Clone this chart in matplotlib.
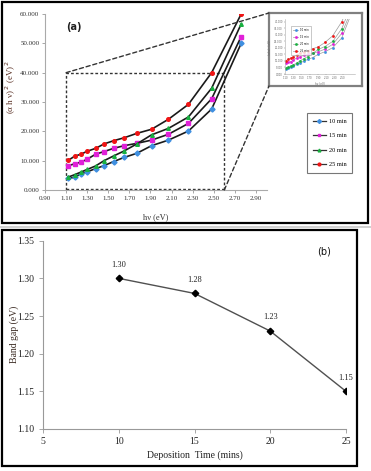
import matplotlib
matplotlib.use("Agg")
import matplotlib.pyplot as plt
from matplotlib.patches import Rectangle
from matplotlib.lines import Line2D
from matplotlib.patches import ConnectionPatch

# ---------------- data ----------------
energy = [1.12, 1.18, 1.24, 1.30, 1.38, 1.46, 1.55, 1.65, 1.77, 1.91, 2.07, 2.26, 2.48, 2.76]
abs_10 = [4.0, 4.3, 5.5, 6.2, 7.3, 8.3, 9.7, 11.1, 12.5, 15.1, 17.0, 20.1, 27.6, 50.0]
abs_15 = [8.3, 8.9, 9.5, 10.5, 12.2, 13.1, 14.2, 15.1, 15.9, 17.0, 19.0, 22.7, 31.1, 52.3]
abs_20 = [4.4, 5.2, 6.1, 7.0, 8.2, 10.0, 11.6, 13.3, 15.7, 18.8, 21.0, 24.9, 34.7, 56.6]
abs_25 = [10.1, 11.5, 12.2, 13.2, 14.2, 15.7, 16.8, 17.8, 19.3, 20.7, 24.1, 29.2, 40.0, 60.0]
series_labels = ["10 min", "15 min", "20 min", "25 min"]

dep_time = [10, 15, 20, 25]
band_gap = [1.30, 1.28, 1.23, 1.15]

x_ticks_a = [0.90, 1.10, 1.30, 1.50, 1.70, 1.90, 2.10, 2.30, 2.50, 2.70, 2.90]
y_ticks_a = [0, 10, 20, 30, 40, 50, 60]
x_ticks_b = [5, 10, 15, 20, 25]
y_ticks_b = [1.10, 1.15, 1.20, 1.25, 1.30, 1.35]
ins_x_ticks = [1.10, 1.30, 1.50, 1.70, 1.90, 2.10, 2.30, 2.50]
ins_y_ticks = [0, 5, 10, 15, 20, 25, 30, 35, 40]

# zoom region marked on panel (a)
zoom_x0, zoom_x1, zoom_y0, zoom_y1 = 1.10, 2.60, 0, 40

colors = ["#3f8fe0", "#e020d8", "#18b040", "#f01414"]
markers = ["D", "s", "^", "o"]

W, H = 371, 471
fig = plt.figure(figsize=(W / 100, H / 100), dpi=100)
SERIF = "Liberation Serif"

def px_rect(x0, y0, x1, y1):
    return [x0 / W, 1 - y1 / H, (x1 - x0) / W, (y1 - y0) / H]

# frames
fig.add_artist(Rectangle((2 / W, 1 - 223 / H), 366 / W, 221 / H, transform=fig.transFigure,
                         fill=False, ec="black", lw=1.6))
fig.add_artist(Rectangle((2 / W, 1 - 466 / H), 355 / W, 236 / H, transform=fig.transFigure,
                         fill=False, ec="black", lw=1.6))
fig.add_artist(Line2D([0, 1], [1 - 226.5 / H, 1 - 226.5 / H], transform=fig.transFigure,
                      color="#c8c8c8", lw=1.2))

# ---------------- panel (a) ----------------
ax = fig.add_axes(px_rect(45, 14, 266.5, 190))
all_series = [abs_10, abs_15, abs_20, abs_25]
for ys, c, m, lab in zip(all_series, colors, markers, series_labels):
    ax.plot(energy, ys, color="#1a1a1a", lw=1.2, marker=m, markersize=2.6,
            markerfacecolor=c, markeredgecolor=c, label=lab, zorder=3)
ax.set_xlim(0.90, 3.0)
ax.set_ylim(0, 60)
ax.set_xticks(x_ticks_a)
ax.set_xticklabels([f"{v:.2f}" for v in x_ticks_a])
ax.set_yticks(y_ticks_a)
ax.set_yticklabels([f"{v:.3f}" for v in y_ticks_a])
for lbl in ax.get_xticklabels() + ax.get_yticklabels():
    lbl.set_fontfamily(SERIF)
    lbl.set_fontsize(5)
    lbl.set_color("#333333")
ax.tick_params(length=2, width=0.6, color="#999999", pad=2)
for s in ["top", "right"]:
    ax.spines[s].set_visible(False)
for s in ["left", "bottom"]:
    ax.spines[s].set_color("#aaaaaa")
    ax.spines[s].set_linewidth(0.8)
ax.set_xlabel("hν (eV)", fontfamily=SERIF, fontsize=6, color="#333333")
ax.xaxis.set_label_coords(0.5, -(213 - 190) / 176)
ax.set_ylabel("(α h ν)$^{\\,2}$ (eV)$^{\\,2}$", fontfamily=SERIF, fontsize=6.5,
              color="#5a3024")
ax.yaxis.set_label_coords(-(45 - 18) / 221.5, 0.585)
ax.text(1.10, 54.5, "(a)", fontsize=7, fontweight="bold", color="#202020")

# dotted zoom box
box_kw = dict(color="#333333", lw=1.0, ls=(0, (2, 1.5)), zorder=2, clip_on=False)
ax.plot([zoom_x0, zoom_x0, zoom_x1, zoom_x1], [zoom_y0, zoom_y1, zoom_y1, zoom_y0], **box_kw)
ax.plot([zoom_x0, zoom_x1], [zoom_y0 + 0.3, zoom_y0 + 0.3], **box_kw)

# legend
leg_handles = [Line2D([], [], color="#333333", lw=0.9, marker=m, markersize=2.0,
                      markerfacecolor=c, markeredgecolor=c) for c, m in zip(colors, markers)]
leg = fig.legend(handles=leg_handles, labels=series_labels, loc="upper left",
                 bbox_to_anchor=(307 / W, 1 - 113 / H), bbox_transform=fig.transFigure,
                 prop={"family": SERIF, "size": 4.5}, frameon=True, fancybox=False,
                 edgecolor="#555555", handlelength=2.1, labelspacing=1.45,
                 borderpad=0.9, handletextpad=0.5, borderaxespad=0)
leg.get_frame().set_linewidth(0.8)

# inset (small copy of zoomed region)
ins_frame = fig.add_axes(px_rect(269, 13, 361.5, 86))
ins_frame.set_xticks([]); ins_frame.set_yticks([])
for s in ins_frame.spines.values():
    s.set_color("#808080"); s.set_linewidth(1.6)
ins = fig.add_axes(px_rect(285, 19, 355, 74))
ins_handles = []
for ys, c, lab in zip(all_series, colors, series_labels):
    h, = ins.plot(energy, ys, color="#9a9a9a", lw=0.5, marker="s", markersize=0.9,
                  markerfacecolor=c, markeredgecolor=c, label=lab)
    ins_handles.append(h)
ins.set_xlim(zoom_x0, zoom_x1 + 0.2)
ins.set_ylim(zoom_y0, zoom_y1 + 2)
ins.set_xticks(ins_x_ticks)
ins.set_xticklabels([f"{v:.2f}" for v in ins_x_ticks])
ins.set_yticks(ins_y_ticks)
ins.set_yticklabels([f"{v:.3f}" for v in ins_y_ticks])
ins.tick_params(labelsize=1.8, length=0.8, width=0.3, pad=0.8, colors="#666666")
for s in ["top", "right"]:
    ins.spines[s].set_visible(False)
for s in ["left", "bottom"]:
    ins.spines[s].set_color("#aaaaaa"); ins.spines[s].set_linewidth(0.4)
ins.set_xlabel("hν (eV)", fontsize=2, color="#666666", labelpad=1.5)
ins.set_ylabel("(αhν)² (eV)²", fontsize=2, color="#666666", labelpad=1.5)
il = ins.legend(handles=ins_handles, loc="upper left", bbox_to_anchor=(0.07, 0.9),
                prop={"size": 1.8}, frameon=True, fancybox=False, edgecolor="#888888",
                handlelength=2.0, labelspacing=1.2, borderpad=0.8)
il.get_frame().set_linewidth(0.4)

# connectors
con_kw = dict(color="#333333", lw=1.0, ls=(0, (3, 2)))
fig.add_artist(ConnectionPatch(xyA=(zoom_x0, zoom_y1), coordsA=ax.transData,
                               xyB=(0, 1), coordsB=ins_frame.transAxes, **con_kw))
fig.add_artist(ConnectionPatch(xyA=(zoom_x1, zoom_y0), coordsA=ax.transData,
                               xyB=(0, 0), coordsB=ins_frame.transAxes, **con_kw))

# ---------------- panel (b) ----------------
bx = fig.add_axes(px_rect(43, 240.7, 346, 429))
bx.plot(dep_time, band_gap, color="#505050", lw=1.0, marker="D", markersize=3.3,
        markerfacecolor="black", markeredgecolor="black", zorder=3)
for t, g in zip(dep_time, band_gap):
    bx.annotate(f"{g:.2f}", (t, g), xytext=(0, 7), textcoords="offset points",
                ha="center", va="bottom", fontfamily=SERIF, fontsize=6, color="#222222")
bx.set_xlim(5, 25)
bx.set_ylim(1.10, 1.35)
bx.set_xticks(x_ticks_b)
bx.set_yticks(y_ticks_b)
bx.set_yticklabels([f"{v:.2f}" for v in y_ticks_b])
for lbl in bx.get_xticklabels() + bx.get_yticklabels():
    lbl.set_fontfamily(SERIF)
    lbl.set_fontsize(7)
    lbl.set_color("#222222")
bx.tick_params(length=3, width=0.6, color="#999999", pad=3)
for s in ["top", "right"]:
    bx.spines[s].set_visible(False)
for s in ["left", "bottom"]:
    bx.spines[s].set_color("#999999")
    bx.spines[s].set_linewidth(0.8)
bx.set_xlabel("Deposition  Time (mins)", fontfamily=SERIF, fontsize=7, color="#222222")
bx.xaxis.set_label_coords(0.5, -(450 - 429) / 188.3)
bx.set_ylabel("Band gap (eV)", fontfamily=SERIF, fontsize=7, color="#3a2a22")
bx.yaxis.set_label_coords(-(43 - 19) / 303, 0.5)
bx.text(0.905, 0.925, "(b)", transform=bx.transAxes, fontsize=7, color="#111111")

fig.savefig("out.png", dpi=100)
